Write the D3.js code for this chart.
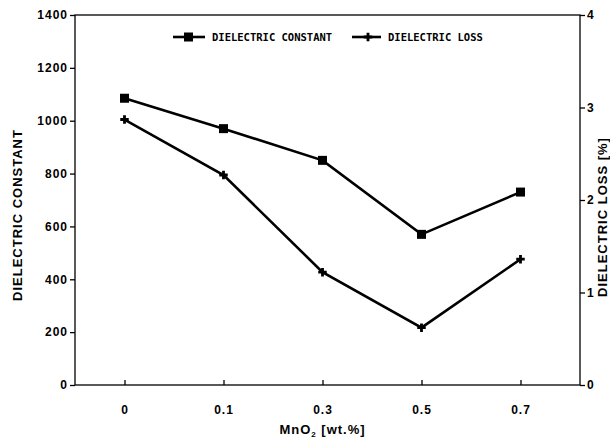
<!DOCTYPE html>
<html>
<head>
<meta charset="utf-8">
<script src="https://cdn.jsdelivr.net/npm/d3@7"></script>
<style>
  body { margin: 0; background: #fff; }
  svg { font-family: "Liberation Sans", Arial, sans-serif; }
  .axis text { font-size: 12px; font-weight: bold; letter-spacing: 1px; fill: #000; }
  .axis path, .axis line { stroke: #000; stroke-width: 1.3; }
  .axis-title { font-size: 13px; font-weight: bold; letter-spacing: 1px; fill: #000; }
  .legend text { font-family: "DejaVu Sans Mono", monospace; font-size: 10.5px; font-weight: bold; fill: #000; }
</style>
</head>
<body>
<svg width="610" height="448"></svg>
<script>
// MnO2 content (wt.%)
const categories = ["0", "0.1", "0.3", "0.5", "0.7"];
const dielectricConstant = [1085, 970, 850, 570, 730];
const dielectricLoss = [2.87, 2.27, 1.22, 0.62, 1.36];
const leftTicks = [0, 200, 400, 600, 800, 1000, 1200, 1400];
const rightTicks = [0, 1, 2, 3, 4];

const svg = d3.select("svg");
const margin = {top: 15, right: 30, bottom: 63, left: 75};
const width = +svg.attr("width") - margin.left - margin.right;
const height = +svg.attr("height") - margin.top - margin.bottom;
const g = svg.append("g")
  .attr("transform", "translate(" + margin.left + "," + margin.top + ")");

const x = d3.scalePoint().domain(categories).range([0, width - 10]).padding(0.5);
const yLeft = d3.scaleLinear().domain([0, 1400]).range([height, 0]);
const yRight = d3.scaleLinear().domain([0, 4]).range([height, 0]);

// frame
g.append("rect")
  .attr("width", width).attr("height", height)
  .attr("fill", "none").attr("stroke", "#000").attr("stroke-width", 1.3);

g.append("g")
  .attr("class", "axis")
  .call(d3.axisLeft(yLeft).tickValues(leftTicks).tickFormat(d3.format("d")).tickSize(5).tickPadding(2))
  .call(s => s.select(".domain").remove());

g.append("g")
  .attr("class", "axis")
  .attr("transform", "translate(" + width + ",0)")
  .call(d3.axisRight(yRight).tickValues(rightTicks).tickFormat(d3.format("d")).tickSize(5).tickPadding(2))
  .call(s => s.select(".domain").remove());

g.append("g")
  .attr("class", "axis")
  .attr("transform", "translate(0," + height + ")")
  .call(d3.axisBottom(x).tickSize(-5).tickPadding(20))
  .call(s => s.select(".domain").remove());

// axis titles
g.append("text")
  .attr("class", "axis-title")
  .attr("transform", "translate(" + (-53) + "," + (height / 2 + 15) + ") rotate(-90)")
  .attr("text-anchor", "middle")
  .text("DIELECTRIC CONSTANT");

g.append("text")
  .attr("class", "axis-title")
  .attr("transform", "translate(" + (width + 27) + "," + (height / 2 + 17) + ") rotate(-90)")
  .attr("text-anchor", "middle")
  .text("DIELECTRIC LOSS [%]");

const xt = g.append("text")
  .attr("class", "axis-title")
  .attr("x", x("0.3"))
  .attr("y", height + 49)
  .attr("text-anchor", "middle");
xt.append("tspan").text("MnO");
xt.append("tspan").attr("font-size", "8px").attr("dy", 3).text("2");
xt.append("tspan").attr("dy", -3).text(" [wt.%]");

// series
const lineC = d3.line().x((d, i) => x(categories[i])).y(d => yLeft(d));
const lineL = d3.line().x((d, i) => x(categories[i])).y(d => yRight(d));

g.append("path").datum(dielectricConstant)
  .attr("d", lineC).attr("fill", "none").attr("stroke", "#000").attr("stroke-width", 2.6);
g.append("path").datum(dielectricLoss)
  .attr("d", lineL).attr("fill", "none").attr("stroke", "#000").attr("stroke-width", 2.6);

g.selectAll(".sq").data(dielectricConstant).enter().append("rect")
  .attr("class", "sq")
  .attr("x", (d, i) => x(categories[i]) - 4.5)
  .attr("y", d => yLeft(d) - 4.5)
  .attr("width", 9).attr("height", 9).attr("fill", "#000");

const cross = d3.symbol().type(d3.symbolCross).size(40);
g.selectAll(".cr").data(dielectricLoss).enter().append("path")
  .attr("class", "cr")
  .attr("transform", (d, i) => "translate(" + x(categories[i]) + "," + yRight(d) + ")")
  .attr("d", cross).attr("fill", "#000");

// legend
const legend = svg.append("g").attr("class", "legend");
legend.append("line").attr("x1", 173).attr("x2", 205).attr("y1", 37).attr("y2", 37)
  .attr("stroke", "#000").attr("stroke-width", 2.6);
legend.append("rect").attr("x", 184).attr("y", 32.5).attr("width", 9).attr("height", 9).attr("fill", "#000");
legend.append("text").attr("x", 212).attr("y", 41).text("DIELECTRIC CONSTANT");
legend.append("line").attr("x1", 352).attr("x2", 381).attr("y1", 37).attr("y2", 37)
  .attr("stroke", "#000").attr("stroke-width", 2.6);
legend.append("path").attr("transform", "translate(368,37)").attr("d", cross).attr("fill", "#000");
legend.append("text").attr("x", 388).attr("y", 41).text("DIELECTRIC LOSS");
</script>
</body>
</html>
